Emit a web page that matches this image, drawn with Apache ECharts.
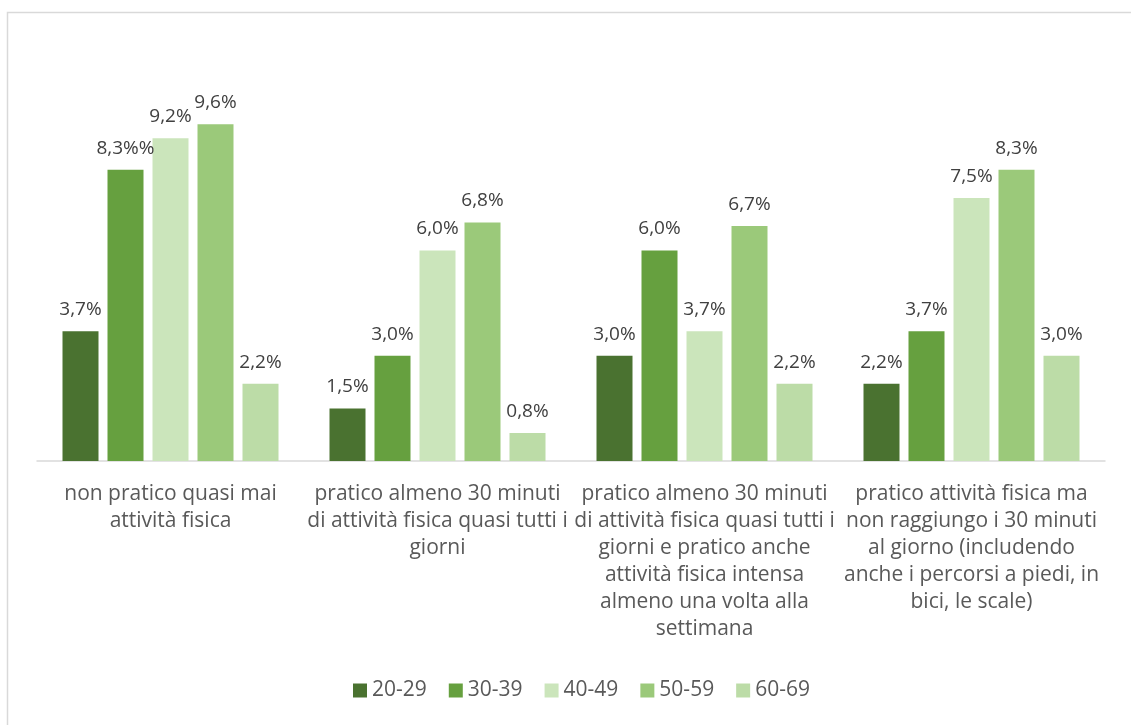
<!DOCTYPE html>
<html>
<head>
<meta charset="utf-8">
<script src="https://cdn.jsdelivr.net/npm/echarts@6/dist/echarts.min.js"></script>
<style>
  html, body { margin: 0; padding: 0; background: #fff; }
  #chart { width: 1131px; height: 725px; }
</style>
</head>
<body>
<div id="chart"></div>
<script>
// Activity categories (line breaks as shown under the axis)
const categories = [
  'non pratico quasi mai\nattività fisica',
  'pratico almeno 30 minuti\ndi attività fisica quasi tutti i\ngiorni',
  'pratico almeno 30 minuti\ndi attività fisica quasi tutti i\ngiorni e pratico anche\nattività fisica intensa\nalmeno una volta alla\nsettimana',
  'pratico attività fisica ma\nnon raggiungo i 30 minuti\nal giorno (includendo\nanche i percorsi a piedi, in\nbici, le scale)'
];

// Age groups
const ageGroups = ['20-29', '30-39', '40-49', '50-59', '60-69'];

// Percentages per age group, one value per category
const v20_29 = [3.7, 1.5, 3.0, 2.2];
const v30_39 = [8.3, 3.0, 6.0, 3.7];
const v40_49 = [9.2, 6.0, 3.7, 7.5];
const v50_59 = [9.6, 6.8, 6.7, 8.3];
const v60_69 = [2.2, 0.8, 2.2, 3.0];

const seriesValues = [v20_29, v30_39, v40_49, v50_59, v60_69];
const colors = ['#4a7230', '#66a03f', '#cbe5bb', '#9bc97a', '#bcdca7'];

const fontFamily = '"Open Sans", "Noto Sans", sans-serif';

function pct(v) {
  return v.toFixed(1).replace('.', ',') + '%';
}

const series = ageGroups.map((name, i) => ({
  name: name,
  type: 'bar',
  barWidth: 36,
  barGap: '25%',
  itemStyle: { color: colors[i] },
  label: {
    show: true,
    position: 'top',
    distance: 12,
    color: '#404040',
    fontFamily: fontFamily,
    fontSize: 19,
    formatter: p => pct(p.value)
  },
  data: seriesValues[i].map((v, j) => {
    // the 30-39 label in the first group carries a doubled percent sign
    if (i === 1 && j === 0) {
      return { value: v, label: { formatter: p => pct(p.value) + '%' } };
    }
    return v;
  })
}));

const chart = echarts.init(document.getElementById('chart'), null, { renderer: 'canvas' });
chart.setOption({
  animation: false,
  backgroundColor: '#fff',
  color: colors,
  graphic: [{
    type: 'rect',
    shape: { x: 7.5, y: 12.5, width: 1300, height: 900 },
    style: { fill: 'none', stroke: '#d9d9d9', lineWidth: 1.5 },
    silent: true,
    z: -1
  }],
  grid: { left: 37, right: 26, top: 40, bottom: 264, containLabel: false },
  xAxis: {
    type: 'category',
    data: categories,
    axisTick: { show: false },
    axisLine: { lineStyle: { color: '#d9d9d9', width: 1.5 } },
    axisLabel: {
      interval: 0,
      margin: 20,
      color: '#595959',
      fontFamily: fontFamily,
      fontSize: 21,
      lineHeight: 27,
      align: 'center'
    }
  },
  yAxis: {
    type: 'value',
    min: 0,
    max: 12,
    interval: 2,
    show: false,
    splitLine: { show: false }
  },
  legend: {
    bottom: 19,
    left: 348,
    itemWidth: 14,
    itemHeight: 14,
    itemGap: 22,
    icon: 'rect',
    textStyle: { color: '#595959', fontFamily: fontFamily, fontSize: 21 },
    data: ageGroups
  },
  series: series
});
</script>
</body>
</html>
